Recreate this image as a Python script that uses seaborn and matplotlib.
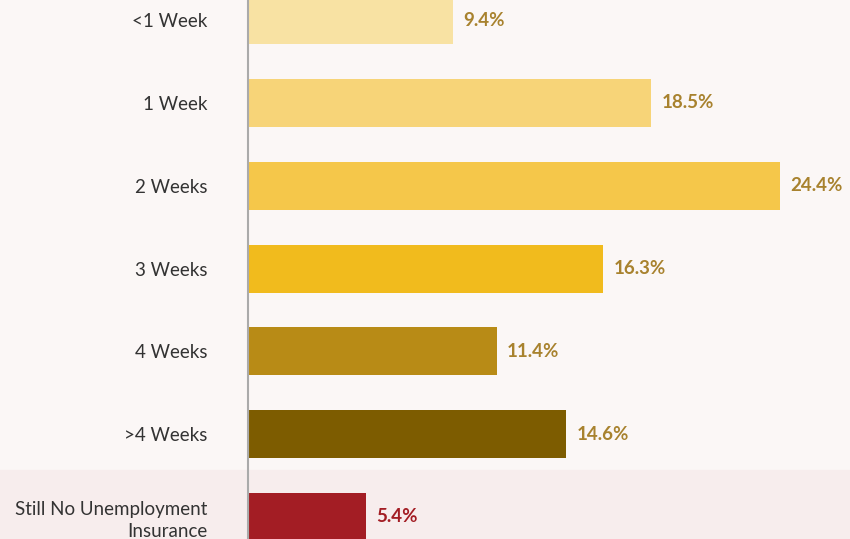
import matplotlib
matplotlib.use("Agg")
import matplotlib.pyplot as plt
import seaborn as sns
import pandas as pd

categories = ["<1 Week", "1 Week", "2 Weeks", "3 Weeks", "4 Weeks", ">4 Weeks",
              "Still No Unemployment\nInsurance"]
shares = [9.4, 18.5, 24.4, 16.3, 11.4, 14.6, 5.4]
bar_colors = ["#f8e2a3", "#f7d478", "#f5c74a", "#f1bb1d", "#b88b16", "#7d5c00", "#a31d24"]
label_colors = ["#a8822e"] * 6 + ["#a31d24"]

df = pd.DataFrame({"category": categories, "share": shares})

sns.set_style("white")
plt.rcParams['font.family'] = ['Lato', 'DejaVu Sans']

bg = "#fbf7f6"
band = "#f7eded"

fig = plt.figure(figsize=(8.5, 5.39), dpi=100, facecolor=bg)
ax = fig.add_axes([248 / 850, 0, 602 / 850, 1])
ax.set_facecolor(bg)

sns.barplot(data=df, x="share", y="category", hue="category", palette=bar_colors,
            legend=False, orient="h", width=0.58, saturation=1, linewidth=0,
            ax=ax, zorder=3)

ax.set_xlim(0, 602 / 21.8)
ax.set_ylim(6.266, -0.244)

# highlighted band behind the last row, running under the labels too
ax.axhspan(5.43, 6.266, xmin=-248 / 602, xmax=1, color=band, clip_on=False, zorder=0)

for i, (v, c) in enumerate(zip(shares, label_colors)):
    ax.text(v + 0.46, i, f"{v}%", va="center", ha="left", color=c,
            fontsize=13.5, fontweight="bold", zorder=4)

ax.set_xlabel("")
ax.set_ylabel("")
ax.set_xticks([])
ax.tick_params(axis="y", length=0, pad=29, labelsize=13.5, labelcolor="#333333")
for lbl in ax.get_yticklabels():
    lbl.set_multialignment("right")
    lbl.set_linespacing(1.3)

for s in ["top", "right", "bottom"]:
    ax.spines[s].set_visible(False)
ax.spines["left"].set_color("#aaaaaa")
ax.spines["left"].set_linewidth(1.5)
ax.spines["left"].set_zorder(5)

fig.savefig("out.png", dpi=100, facecolor=bg)
